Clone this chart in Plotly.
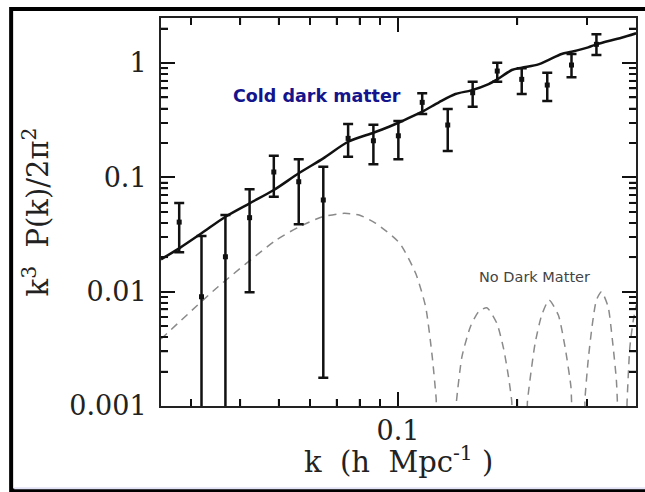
import plotly.graph_objects as go

# ---- data ----
k_data = [0.02805, 0.03193, 0.03669, 0.04222, 0.04860, 0.05617, 0.06479, 0.07484, 0.08668,
          0.1002, 0.1151, 0.1335, 0.1543, 0.1780, 0.2052, 0.2380, 0.2740, 0.3167]
p_data = [0.0406, 0.00903, 0.0202, 0.0444, 0.1114, 0.0916, 0.0634, 0.2193, 0.209,
          0.231, 0.453, 0.287, 0.550, 0.851, 0.720, 0.642, 0.961, 1.458]
p_hi = [0.0597, 0.0307, 0.0469, 0.0786, 0.1545, 0.144, 0.124, 0.2926, 0.2886,
        0.311, 0.543, 0.396, 0.687, 1.006, 0.899, 0.822, 1.199, 1.782]
p_lo = [0.0221, 0.0001, 0.0001, 0.00987, 0.0678, 0.0388, 0.00177, 0.1515, 0.130,
        0.144, 0.358, 0.170, 0.415, 0.687, 0.536, 0.466, 0.750, 1.175]

k_cdm = [0.02523, 0.02805, 0.03193, 0.03669, 0.04222, 0.04860, 0.05617, 0.06479, 0.07484,
         0.08668, 0.09493, 0.1025, 0.1151, 0.1268, 0.1396, 0.1530, 0.1693, 0.1780,
         0.1937, 0.2053, 0.2261, 0.2394, 0.2587, 0.2741, 0.3019, 0.3167, 0.3663, 0.3987]
p_cdm = [0.01919, 0.02394, 0.03240, 0.04524, 0.05929, 0.07749, 0.1085, 0.1467, 0.2049,
         0.2457, 0.2773, 0.3111, 0.3751, 0.4532, 0.5357, 0.5771, 0.6553, 0.7202,
         0.8688, 0.9099, 0.9743, 1.0624, 1.1988, 1.2556, 1.3719, 1.4577, 1.6648, 1.820]

k_nodm = [0.02523, 0.03516, 0.04928, 0.05637, 0.06452, 0.07313, 0.07980, 0.08790, 0.1009,
          0.1108, 0.1174, 0.1220, 0.1248, 0.1260,
          0.1390, 0.1404, 0.1450, 0.1523, 0.1597, 0.1676, 0.1776, 0.1846, 0.1900, 0.1937, 0.1951,
          0.2109, 0.2121, 0.2218, 0.2305, 0.2405, 0.2538, 0.2638, 0.2731, 0.2741, 0.2752,
          0.2950, 0.2962, 0.3019, 0.3095, 0.3167, 0.3261, 0.3389, 0.3475, 0.3556, 0.3577, 0.3592,
          0.3762, 0.3784, 0.3844, 0.3917, 0.3993]
p_nodm = [0.003855, 0.01105, 0.02830, 0.03700, 0.04524, 0.04846, 0.04683, 0.03963, 0.02665,
          0.01448, 0.007388, 0.002700, 0.001168, 0.0007,
          0.0007, 0.001090, 0.002700, 0.004939, 0.006680, 0.007240, 0.005289, 0.003196, 0.001805, 0.001090, 0.0007,
          0.0007, 0.001090, 0.003535, 0.006250, 0.008455, 0.006250, 0.003301, 0.001475, 0.001090, 0.0007,
          0.0007, 0.001129, 0.002526, 0.005289, 0.008455, 0.009993, 0.007388, 0.003778, 0.001688, 0.001090, 0.0007,
          0.0007, 0.001090, 0.003196, 0.005430, 0.007644]

y_ticks = [0.001, 0.01, 0.1, 1]
y_ticktext = ["0.001", "0.01", "0.1", "1"]
x_ticks = [0.1]
x_ticktext = ["0.1"]
y_minor = [m * 10 ** e for e in range(-3, 1) for m in range(2, 10)] + [2]
x_minor = [0.03, 0.04, 0.05, 0.06, 0.07, 0.08, 0.09, 0.2, 0.3]

X_RANGE = [-1.598, -0.3995]
Y_RANGE = [-3, 0.394]

err_plus = [h - p for h, p in zip(p_hi, p_data)]
err_minus = [p - l for p, l in zip(p_data, p_lo)]

AXIS_COLOR = "#222222"
TICK_COLOR = "#111111"
LABEL_FONT = dict(family="DejaVu Serif", size=27, color="#222222")

fig = go.Figure()

fig.add_trace(go.Scatter(
    x=k_nodm, y=p_nodm, mode="lines",
    line=dict(color="#8a8a8a", width=1.5, dash="8px,6px", shape="spline", smoothing=0.6),
    showlegend=False, hoverinfo="skip"))

fig.add_trace(go.Scatter(
    x=k_cdm, y=p_cdm, mode="lines",
    line=dict(color="#111111", width=2.5, shape="spline", smoothing=0.8),
    showlegend=False))

fig.add_trace(go.Scatter(
    x=k_data, y=p_data, mode="markers",
    marker=dict(symbol="square", size=5, color="#111111"),
    error_y=dict(type="data", array=err_plus, arrayminus=err_minus,
                 color="#111111", thickness=2.5, width=5),
    showlegend=False))

common = dict(type="log", showgrid=False, zeroline=False,
              showline=True, linecolor=AXIS_COLOR, linewidth=2,
              mirror="ticks", ticks="inside")
minor_ticks = dict(ticks="inside", ticklen=7, tickwidth=1.6, tickcolor=TICK_COLOR,
                   dtick="D1", showgrid=False)

fig.update_layout(
    xaxis=dict(**common, range=X_RANGE, tickmode="array", tickvals=x_ticks,
               ticktext=x_ticktext, ticklen=14, tickwidth=2, tickcolor=TICK_COLOR,
               tickfont=LABEL_FONT, ticklabelstandoff=0, minor=minor_ticks),
    yaxis=dict(**common, range=Y_RANGE, tickmode="array", tickvals=y_ticks,
               ticktext=y_ticktext, ticklen=14, tickwidth=2, tickcolor=TICK_COLOR,
               tickfont=LABEL_FONT, ticklabelstandoff=7, minor=minor_ticks,
               title=dict(text="k<sup>3</sup>\u00a0 P(k)/2\u03c0<sup>2</sup>",
                          font=dict(family="DejaVu Serif", size=29, color="#222222"),
                          standoff=12)),
)

# minor tick marks on all four sides: placed at the minor tick values on the data axes,
# with a fixed length expressed as a fraction of the plot domain
MINOR_LEN_X = 7 / 388   # vertical length of x-axis minor ticks (fraction of plot height)
MINOR_LEN_Y = 7 / 477   # horizontal length of y-axis minor ticks (fraction of plot width)
tick_line = dict(color=TICK_COLOR, width=1.6)
for v in x_minor:
    fig.add_shape(type="line", xref="x", yref="y domain", x0=v, x1=v,
                  y0=0, y1=MINOR_LEN_X, line=tick_line, layer="above")
    fig.add_shape(type="line", xref="x", yref="y domain", x0=v, x1=v,
                  y0=1 - MINOR_LEN_X, y1=1, line=tick_line, layer="above")
for v in y_minor:
    fig.add_shape(type="line", xref="x domain", yref="y", x0=0, x1=MINOR_LEN_Y,
                  y0=v, y1=v, line=tick_line, layer="above")
    fig.add_shape(type="line", xref="x domain", yref="y", x0=1 - MINOR_LEN_Y, x1=1,
                  y0=v, y1=v, line=tick_line, layer="above")

fig.add_annotation(xref="paper", yref="paper", x=0.5, y=-0.139,
                   text="k\u00a0 (h\u00a0 Mpc<sup>-1</sup>\u00a0)", showarrow=False,
                   xanchor="center", yanchor="middle",
                   font=dict(family="DejaVu Serif", size=29, color="#222222"))
fig.add_annotation(xref="paper", yref="paper", x=0.329, y=0.800,
                   text="<b>Cold dark matter</b>", showarrow=False,
                   xanchor="center", yanchor="middle",
                   font=dict(family="DejaVu Sans", size=17.5, color="#14148c"))
fig.add_annotation(xref="paper", yref="paper", x=0.787, y=0.333,
                   text="No Dark Matter", showarrow=False,
                   xanchor="center", yanchor="middle",
                   font=dict(family="DejaVu Sans", size=14.5, color="#444444"))

# outer frame of the slide image
fig.add_shape(type="rect", xref="paper", yref="paper",
              x0=-0.3155, x1=1.06, y0=-0.2178, y1=1.0232,
              line=dict(color="#000000", width=4), fillcolor="rgba(0,0,0,0)", layer="below")
fig.add_shape(type="line", xref="paper", yref="paper",
              x0=-0.309, x1=1.06, y0=-0.212, y1=-0.212,
              line=dict(color="#e2e2f6", width=2), layer="below")

fig.update_layout(
    width=645, height=492,
    margin=dict(l=161, r=7, t=18, b=86),
    paper_bgcolor="white", plot_bgcolor="rgba(0,0,0,0)",
    showlegend=False,
)

fig.write_html("out.html", config={"displayModeBar": False},
               post_script="document.body.style.margin='0';document.body.style.padding='0';")
